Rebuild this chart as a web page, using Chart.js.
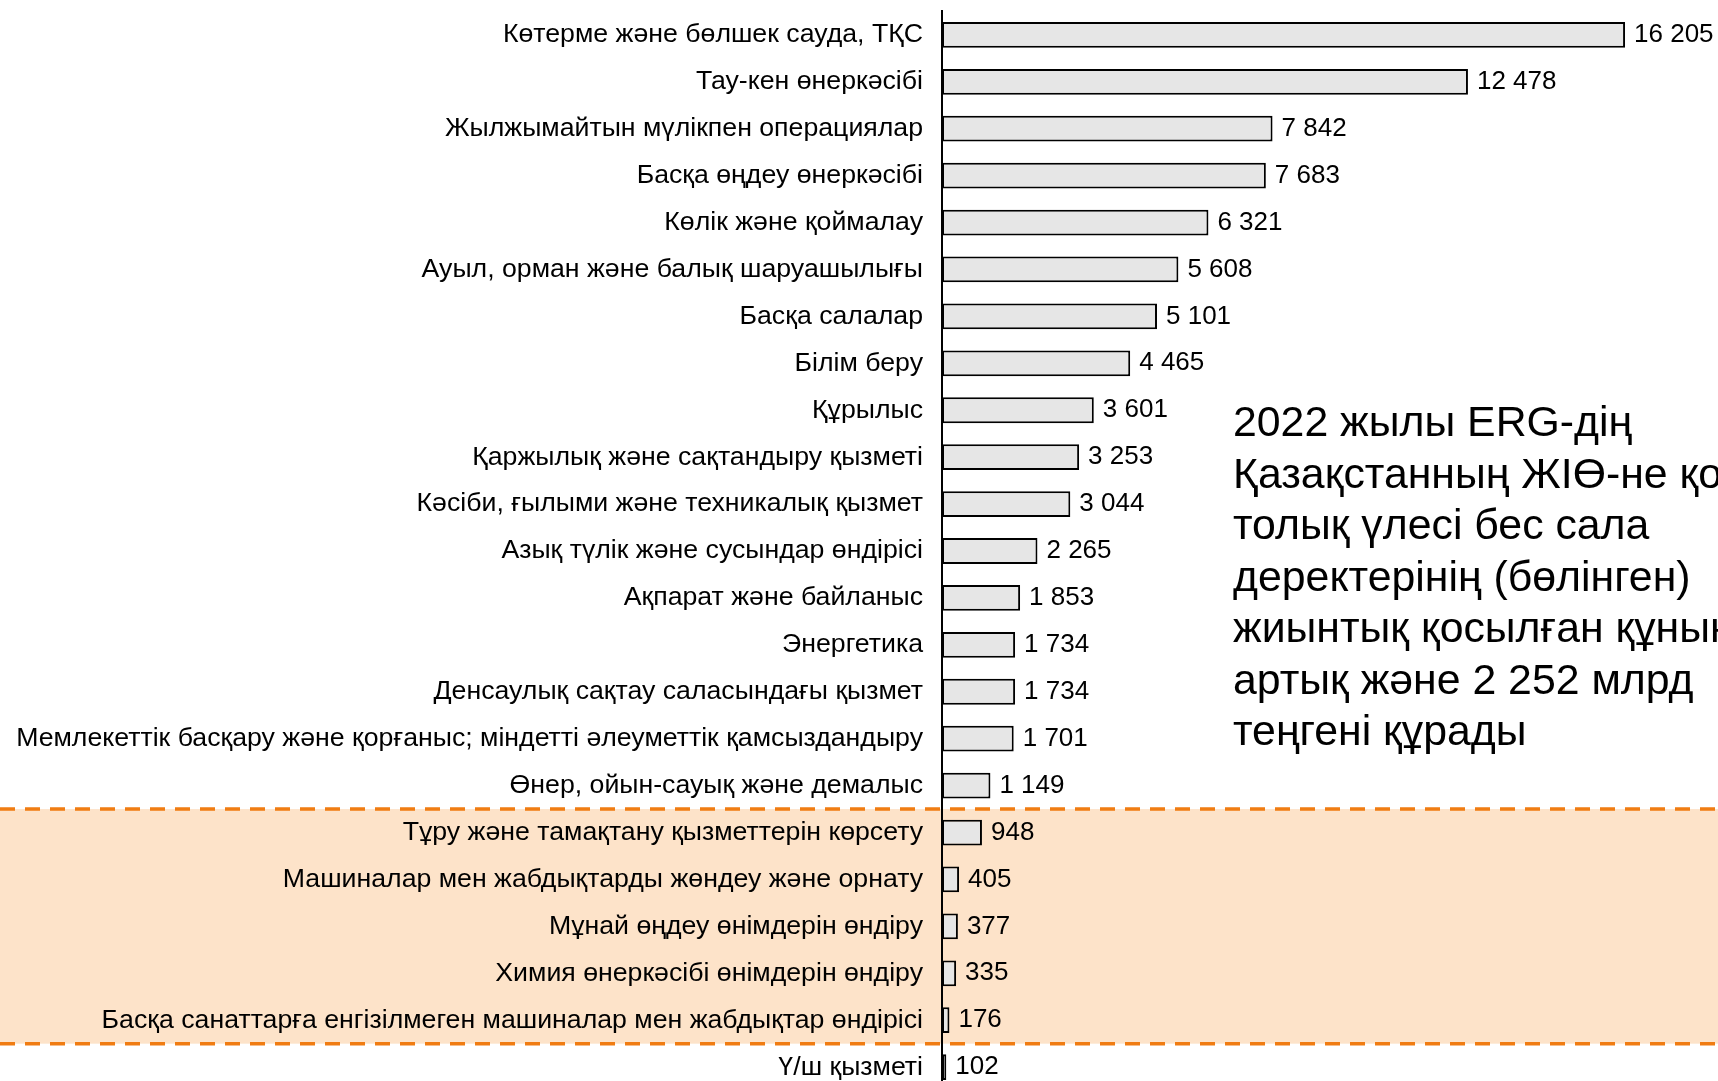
<!DOCTYPE html>
<html>
<head>
<meta charset="utf-8">
<script src="https://cdn.jsdelivr.net/npm/chart.js@4/dist/chart.umd.min.js"></script>
<style>
  html, body { margin: 0; padding: 0; background: #fff; overflow: hidden; }
  #wrap { position: relative; width: 1718px; height: 1100px; }
  #note {
    position: absolute; left: 1233px; top: 396px;
    font-family: "Liberation Sans", Arial, sans-serif;
    font-size: 42.8px; line-height: 51.5px; color: #000;
    white-space: nowrap;
  }
</style>
</head>
<body>
<div id="wrap">
  <canvas id="chart" width="1718" height="1100"></canvas>
  <div id="note">2022 жылы ERG-дің<br>Қазақстанның ЖІӨ-не қосқан<br>толық үлесі бес сала<br>деректерінің (бөлінген)<br>жиынтық қосылған құнынан<br>артық және 2 252 млрд<br>теңгені құрады</div>
</div>
<script>
const categories = [
  "Көтерме және бөлшек сауда, ТҚС",
  "Тау-кен өнеркәсібі",
  "Жылжымайтын мүлікпен операциялар",
  "Басқа өңдеу өнеркәсібі",
  "Көлік және қоймалау",
  "Ауыл, орман және балық шаруашылығы",
  "Басқа салалар",
  "Білім беру",
  "Құрылыс",
  "Қаржылық және сақтандыру қызметі",
  "Кәсіби, ғылыми және техникалық қызмет",
  "Азық түлік және сусындар өндірісі",
  "Ақпарат және байланыс",
  "Энергетика",
  "Денсаулық сақтау саласындағы қызмет",
  "Мемлекеттік басқару және қорғаныс; міндетті әлеуметтік қамсыздандыру",
  "Өнер, ойын-сауық және демалыс",
  "Тұру және тамақтану қызметтерін көрсету",
  "Машиналар мен жабдықтарды жөндеу және орнату",
  "Мұнай өңдеу өнімдерін өндіру",
  "Химия өнеркәсібі өнімдерін өндіру",
  "Басқа санаттарға енгізілмеген машиналар мен жабдықтар өндірісі",
  "Ү/ш қызметі"
]
const values = [16205, 12478, 7842, 7683, 6321, 5608, 5101, 4465, 3601, 3253, 3044, 2265, 1853, 1734, 1734, 1701, 1149, 948, 405, 377, 335, 176, 102]

// highlighted rows (first and last index of the orange band)
const bandFirst = 17
const bandLast = 21

const FONT = '"Liberation Sans", Arial, sans-serif'

function fmt(v){
    return String(v).replace(/\B(?=(\d{3})+(?!\d))/g, " ")
}

const bandPlugin = {
    id: "band",
    beforeDraw(chart){
        const ctx = chart.ctx
        const y = chart.scales.y
        const top = y.getPixelForValue(bandFirst - 0.5)
        const bottom = y.getPixelForValue(bandLast + 0.5)
        ctx.save()
        ctx.fillStyle = "#fff"
        ctx.fillRect(0, 0, chart.width, chart.height)
        ctx.fillStyle = "#FDE3C9"
        ctx.fillRect(0, top, chart.width, bottom - top)
        ctx.restore()
    },
    afterDraw(chart){
        const ctx = chart.ctx
        const y = chart.scales.y
        const lines = [y.getPixelForValue(bandFirst - 0.5), y.getPixelForValue(bandLast + 0.5)]
        ctx.save()
        ctx.strokeStyle = "#F07C12"
        ctx.lineWidth = 3.5
        ctx.setLineDash([15, 10])
        lines.forEach(py => {
            ctx.beginPath()
            ctx.moveTo(0, py)
            ctx.lineTo(chart.width, py)
            ctx.stroke()
        })
        ctx.restore()
    }
}

const valueLabels = {
    id: "valueLabels",
    afterDatasetsDraw(chart){
        const ctx = chart.ctx
        const meta = chart.getDatasetMeta(0)
        ctx.save()
        ctx.font = "26px " + FONT
        ctx.fillStyle = "#000"
        ctx.textBaseline = "middle"
        ctx.textAlign = "left"
        meta.data.forEach((bar, i) => {
            ctx.fillText(fmt(values[i]), bar.x + 9, bar.y)
        })
        ctx.restore()
    }
}

new Chart(document.getElementById("chart"), {
    type: "bar",
    data: {
        labels: categories,
        datasets: [{
            data: values,
            backgroundColor: "#E6E6E6",
            borderColor: "#000",
            borderWidth: 2,
            borderSkipped: false,
            barPercentage: 0.55,
            categoryPercentage: 1
        }]
    },
    options: {
        indexAxis: "y",
        responsive: false,
        animation: false,
        devicePixelRatio: 1,
        layout: { padding: { top: 11.4, bottom: 9.4, left: 0, right: 0 } },
        plugins: {
            legend: { display: false },
            tooltip: { enabled: false }
        },
        scales: {
            x: {
                display: false,
                min: 0,
                max: 18410
            },
            y: {
                afterFit(scale){
                    scale.width = 942
                    scale.paddingTop = 0
                    scale.paddingBottom = 0
                },
                grid: { display: false, drawTicks: false },
                border: { display: true, color: "#000", width: 2 },
                ticks: {
                    padding: 19,
                    color: "#000",
                    autoSkip: false,
                    font: { family: FONT, size: 26.7 }
                }
            }
        }
    },
    plugins: [bandPlugin, valueLabels]
})
</script>
</body>
</html>
